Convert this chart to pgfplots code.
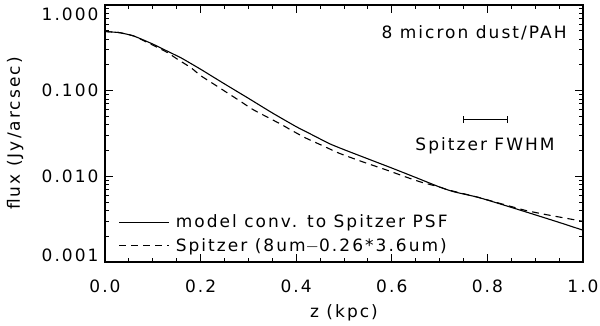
\documentclass[border=0pt]{standalone}
\usepackage{fontspec}
\setmainfont{DejaVu Sans}[LetterSpace=12]
\usepackage{pgfplots}
\pgfplotsset{compat=1.18}
\newcommand\ff{\fontsize{17bp}{20bp}\selectfont}
\begin{document}
\begin{tikzpicture}
\begin{axis}[
  scale only axis, width=478bp, height=257bp,
  xmin=0, xmax=1, ymode=log, ymin=0.001, ymax=1,
  xtick={0,0.2,0.4,0.6,0.8,1.0}, minor x tick num=3,
  xticklabels={0.0,0.2,0.4,0.6,0.8,1.0},
  ytick={0.001,0.01,0.1,1},
  yticklabels={\smash{\raisebox{0.8bp}{0.001}},0.010,0.100,\smash{\raisebox{-15bp}{1.000}}},
  /pgf/number format/assume math mode=true,
  tick label style={font=\ff},
  xticklabel style={yshift=-14bp},
  yticklabel style={xshift=-3bp},
  major tick length=8bp, minor tick length=4bp,
  axis line style={line width=1.4bp},
  every tick/.style={black, line width=0.9bp},
  xlabel={z (kpc)}, ylabel={flux (Jy/arcsec)},
  every axis x label/.style={at={(axis description cs:0.5,-0.198)}, anchor=center, font=\ff},
  every axis y label/.style={at={(axis description cs:-0.188,0.5)}, anchor=center, rotate=90, font=\ff},
  legend style={at={(axis description cs:0.022,0.02)}, anchor=south west, draw=none, fill=none, font=\ff, row sep=5bp},
  legend cell align=left,
  legend image code/.code={\draw[#1] (0bp,0bp) -- (50bp,0bp);},
]
\addplot[black, line width=1.1bp, smooth, tension=0.3] coordinates {
(0,0.49) (0.03,0.476) (0.06,0.435) (0.10,0.35) (0.13,0.29) (0.16,0.24) (0.20,0.178) (0.22,0.152) (0.25,0.120) (0.30,0.0815) (0.35,0.055) (0.40,0.038) (0.43,0.0312) (0.47,0.0240) (0.50,0.0205) (0.55,0.0160) (0.60,0.0125) (0.65,0.0097) (0.70,0.0075) (0.73,0.0066) (0.78,0.0057) (0.83,0.0047) (0.89,0.0037) (0.95,0.0029) (1.00,0.00235)
};
\addlegendentry{\hspace{4bp}model conv. to Spitzer PSF}
\addplot[black, line width=1.1bp, dash pattern=on 7bp off 5bp, smooth, tension=0.3] coordinates {
(0,0.49) (0.03,0.476) (0.06,0.435) (0.10,0.34) (0.13,0.28) (0.15,0.236) (0.18,0.185) (0.20,0.150) (0.23,0.117) (0.255,0.095) (0.28,0.0773) (0.31,0.060) (0.34,0.049) (0.37,0.040) (0.39,0.0345) (0.42,0.0280) (0.45,0.0235) (0.49,0.0186) (0.54,0.0147) (0.59,0.0118) (0.63,0.0098) (0.66,0.0086) (0.70,0.0075) (0.72,0.0069) (0.78,0.0057) (0.84,0.0046) (0.88,0.0040) (0.92,0.0036) (0.97,0.0032) (1.00,0.00298)
};
\addlegendentry{\hspace{4bp}Spitzer (8um$-$0.26*3.6um)}
\draw[line width=1bp] (axis cs:0.749,0.046) -- (axis cs:0.841,0.046);
\draw[line width=1bp] ([yshift=-3.5bp]axis cs:0.749,0.046) -- ([yshift=3.5bp]axis cs:0.749,0.046);
\draw[line width=1bp] ([yshift=-3.5bp]axis cs:0.841,0.046) -- ([yshift=3.5bp]axis cs:0.841,0.046);
\node[anchor=center, font=\ff] at (axis cs:0.795,0.0229) {Spitzer FWHM};
\node[anchor=east, font=\ff] at (axis description cs:0.973,0.891) {8 micron dust/PAH};
\end{axis}
\pgfresetboundingbox
\path ([xshift=-105bp,yshift=-64bp]current axis.south west) rectangle ([xshift=17bp,yshift=5bp]current axis.north east);
\end{tikzpicture}
\end{document}
